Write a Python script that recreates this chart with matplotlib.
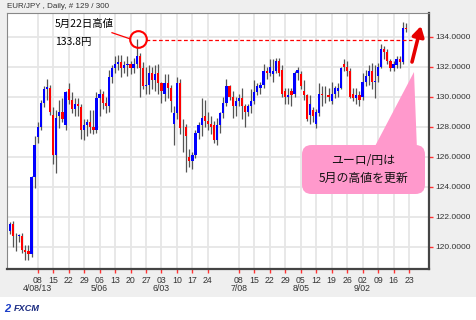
import matplotlib
matplotlib.use("Agg")
import matplotlib.pyplot as plt
import numpy as np
from matplotlib.patches import FancyBboxPatch, Polygon, Rectangle
from matplotlib.lines import Line2D

plt.rcParams['font.family'] = ['Liberation Sans', 'Noto Sans CJK JP', 'DejaVu Sans']

# ---------------- data (EUR/JPY daily OHLC) ----------------
opens = [121.05, 121.50, 120.70, 120.72, 120.75, 119.80, 119.70, 119.50, 124.65, 127.30,
         128.00, 129.60, 130.50, 130.60, 128.80, 126.10, 128.70, 129.00, 128.10, 130.50,
         129.80, 129.20, 129.50, 129.30, 127.80, 128.10, 128.30, 128.00, 127.80, 129.90,
         130.20, 129.60, 129.40, 131.30, 131.90, 132.20, 132.30, 131.90, 132.10, 132.20,
         131.90, 132.20, 132.70, 131.90, 130.70, 130.80, 131.60, 131.10, 131.60, 130.90,
         130.20, 130.90, 130.60, 128.20, 128.90, 130.90, 127.90, 128.00, 126.00, 125.70,
         126.10, 127.60, 128.10, 128.70, 128.40, 128.20, 128.10, 127.10, 128.10, 128.90,
         129.60, 130.70, 130.00, 129.40, 129.70, 129.90, 129.40, 129.00, 129.40, 129.70,
         130.30, 130.60, 130.80, 131.70, 131.60, 131.55, 131.70, 132.40, 131.80, 130.40,
         130.00, 130.40, 130.20, 131.60, 131.50, 130.40, 130.10, 128.80, 129.10, 128.20,
         128.90, 130.20, 130.10, 130.10, 129.70, 130.20, 130.40, 130.60, 132.20, 132.00,
         131.70, 130.20, 129.90, 130.10, 130.00, 131.00, 131.40, 131.70, 131.00, 131.40,
         132.00, 133.20, 133.00, 132.40, 131.90, 132.10, 132.50, 132.30, 134.60]
highs = [121.65, 121.75, 120.90, 120.85, 120.90, 120.10, 120.10, 124.70, 127.40, 128.30,
         129.80, 130.70, 131.20, 130.80, 129.30, 129.10, 129.80, 129.90, 130.40, 130.90,
         130.30, 129.90, 129.90, 129.50, 128.50, 128.50, 129.10, 129.10, 130.30, 130.50,
         130.40, 130.00, 131.80, 132.10, 132.70, 132.80, 132.80, 132.40, 132.70, 132.40,
         132.60, 133.85, 132.90, 132.30, 132.00, 132.10, 132.00, 132.10, 132.20, 131.00,
         131.50, 131.50, 130.80, 129.40, 131.30, 131.20, 128.50, 128.20, 126.50, 126.30,
         127.80, 128.30, 129.90, 129.80, 129.00, 128.70, 128.40, 128.60, 129.00, 130.00,
         131.20, 130.80, 130.40, 130.00, 130.20, 130.60, 129.50, 129.50, 130.50, 131.10,
         130.90, 131.00, 132.20, 132.00, 132.50, 132.50, 132.60, 132.60, 132.10, 130.60,
         130.60, 130.60, 131.70, 132.00, 131.70, 131.10, 130.20, 130.10, 129.30, 129.20,
         130.90, 130.70, 130.70, 130.60, 131.00, 130.70, 130.90, 132.00, 132.50, 132.40,
         131.90, 130.60, 130.60, 130.40, 131.60, 131.80, 132.10, 132.25, 132.10, 132.25,
         133.50, 133.40, 133.20, 132.50, 132.40, 132.70, 132.70, 135.00, 134.90]
lows = [120.85, 120.00, 119.70, 120.30, 119.60, 119.10, 119.15, 119.30, 123.90, 126.90,
        127.80, 129.30, 129.80, 128.80, 125.50, 124.90, 127.90, 128.30, 127.80, 129.50,
        128.90, 128.70, 128.70, 127.20, 127.10, 127.40, 127.60, 127.50, 127.60, 128.70,
        129.20, 128.90, 129.00, 130.90, 131.60, 131.80, 131.30, 131.60, 131.40, 131.50,
        131.60, 131.90, 130.00, 130.50, 130.20, 130.20, 130.50, 130.40, 130.20, 129.60,
        129.70, 129.90, 129.00, 126.80, 128.50, 127.50, 126.30, 125.00, 125.30, 125.20,
        125.90, 127.20, 127.40, 128.00, 127.80, 127.50, 126.90, 126.80, 127.60, 128.60,
        129.40, 129.80, 128.60, 128.70, 129.40, 128.50, 128.00, 128.70, 128.90, 129.50,
        130.10, 130.20, 130.60, 131.20, 131.40, 131.00, 131.60, 131.40, 130.00, 129.50,
        129.50, 129.40, 130.00, 131.10, 130.50, 129.80, 128.40, 128.20, 128.30, 127.90,
        128.70, 129.40, 129.60, 129.70, 129.50, 129.90, 130.00, 130.50, 131.70, 131.40,
        129.90, 129.70, 129.50, 129.40, 129.80, 130.70, 130.80, 130.50, 129.90, 131.00,
        131.90, 132.50, 132.20, 131.70, 131.70, 131.90, 131.90, 132.20, 134.30]
closes = [121.50, 120.70, 120.75, 120.78, 119.80, 119.65, 119.50, 124.65, 126.80, 128.00,
          129.60, 130.50, 130.65, 129.00, 126.10, 128.60, 129.00, 128.50, 130.30, 129.80,
          129.20, 129.50, 129.40, 127.80, 128.10, 128.30, 128.00, 127.80, 129.90, 130.20,
          129.60, 129.40, 131.30, 131.90, 132.20, 132.30, 131.90, 132.10, 132.20, 131.90,
          132.20, 132.70, 131.90, 130.70, 130.80, 131.60, 131.10, 131.50, 130.90, 130.40,
          130.90, 130.60, 129.70, 128.90, 130.90, 127.90, 127.95, 127.40, 125.70, 126.10,
          127.60, 128.10, 128.60, 128.40, 128.20, 128.00, 127.10, 128.10, 128.90, 129.60,
          130.70, 130.00, 129.40, 129.70, 129.90, 129.40, 129.00, 129.40, 129.70, 130.30,
          130.70, 130.80, 131.70, 131.60, 132.00, 131.70, 132.40, 131.60, 130.20, 130.00,
          130.10, 130.10, 131.60, 131.80, 130.70, 130.10, 128.50, 129.50, 128.70, 129.00,
          130.20, 130.10, 130.12, 130.00, 130.20, 130.60, 130.60, 131.90, 132.00, 131.70,
          130.00, 129.90, 130.10, 129.80, 131.00, 131.40, 131.70, 131.00, 131.05, 132.00,
          133.20, 133.00, 132.40, 131.90, 132.20, 132.50, 132.30, 134.60, 134.50]

tick_pos = [9, 14, 19, 24, 29, 34, 39, 44, 49, 54, 59, 64,
            74, 79, 84, 89, 94, 99, 104, 109, 114, 119, 124, 129]
tick_days = ["08", "15", "22", "29", "06", "13", "20", "27", "03", "10", "17", "24",
             "08", "15", "22", "29", "05", "12", "19", "26", "02", "09", "16", "23"]
month_pos = [9, 29, 49, 74, 94, 114]
month_text = ["4/08/13", "5/06", "6/03", "7/08", "8/05", "9/02"]
y_ticks = [120, 122, 124, 126, 128, 130, 132, 134]

peak_idx = 41
peak_val = highs[peak_idx]

# ---------------- figure ----------------
W, H = 476, 320
fig = plt.figure(figsize=(W / 100, H / 100), dpi=100)
fig.patch.set_facecolor('#efefef')

def fx(px):
    return px / W

def fy(py):
    return 1 - py / H

# white strip at the bottom
fig.add_artist(Rectangle((0, 0), 1, 23 / H, transform=fig.transFigure,
                         facecolor='white', edgecolor='none', zorder=0))

ax = fig.add_axes([fx(7), fy(269), fx(429) - fx(7), fy(13) - fy(269)])
ax.set_facecolor('white')

x = np.arange(len(opens))
o = np.array(opens); c = np.array(closes); h = np.array(highs); l = np.array(lows)

ax.vlines(x, l, h, color='#555555', lw=0.9, zorder=3)
body_bottom = np.minimum(o, c)
body_h = np.abs(c - o)
colors = []
for oo, cc in zip(o, c):
    if abs(cc - oo) < 0.04:
        colors.append('#333333')
    elif cc > oo:
        colors.append('#0000ff')
    else:
        colors.append('#ff0000')
body_h = np.where(body_h < 0.06, 0.06, body_h)
ax.bar(x, body_h, bottom=body_bottom, width=0.72, color=colors, linewidth=0, zorder=4)

ax.set_xlim(-0.92, 135.47)
ax.set_ylim(118.53, 135.6)

# grid
for tp in tick_pos:
    ax.axvline(tp, color='#e6e6e6', lw=1.3, zorder=1)
for yv in y_ticks:
    ax.axhline(yv, color='#e6e6e6', lw=1.3, zorder=1)

# ticks
ax.yaxis.tick_right()
ax.set_yticks(y_ticks)
ax.set_yticklabels([f"{v:.4f}" for v in y_ticks])
ax.tick_params(axis='y', colors='#ff3333', length=3, width=1, pad=1.5,
               labelsize=6.0, labelcolor='#333333')
ax.set_xticks(tick_pos)
ax.set_xticklabels(tick_days)
ax.tick_params(axis='x', colors='#ff3333', length=3, width=1, pad=2,
               labelsize=6.3, labelcolor='#333333')
for p, t in zip(month_pos, month_text):
    ax.text(p, -0.078, t, transform=ax.get_xaxis_transform(), ha='center', va='center',
            fontsize=6.3, color='#333333')

for side in ['left', 'top']:
    ax.spines[side].set_color('#888888')
    ax.spines[side].set_linewidth(0.8)
for side in ['right', 'bottom']:
    ax.spines[side].set_color('#444444')
    ax.spines[side].set_linewidth(1.6)

# peak marker: circle and dashed level line
ax.plot([peak_idx + 0.4], [peak_val], marker='o', markersize=12, markerfacecolor='none',
        markeredgecolor='#ff0000', markeredgewidth=1.5, zorder=6, clip_on=False)
ax.plot([peak_idx + 3, 130], [peak_val - 0.03, peak_val - 0.03], color='#ff0000', lw=0.9,
        dashes=(3, 2), zorder=5)

# header
fig.text(fx(7), fy(7), "EUR/JPY , Daily, # 129 / 300", fontsize=5.8, color='#333333',
         va='center', ha='left')

# top-left annotation
fig.text(fx(55), fy(24), "5月22日高値", fontsize=7.5, family=['Noto Sans CJK JP'],
         va='center', ha='left', color='black')
fig.text(fx(55), fy(42), "133.8円", fontsize=7.5, family=['Noto Sans CJK JP'],
         va='center', ha='left', color='black')
fig.add_artist(Line2D([fx(112), fx(130.5)], [fy(32.7), fy(39)], color='#ff0000', lw=0.9,
                      transform=fig.transFigure))

# pink callout
fig.add_artist(Polygon([[fx(373), fy(150)], [fx(414), fy(72)], [fx(417), fy(150)]],
                       closed=True, transform=fig.transFigure, facecolor='#ff99cc',
                       edgecolor='none', zorder=5))
fig.add_artist(FancyBboxPatch((fx(302), fy(194)), fx(425) - fx(302), fy(145) - fy(194),
                              boxstyle='round,pad=0,rounding_size=0.02',
                              transform=fig.transFigure, facecolor='#ff99cc',
                              edgecolor='none', zorder=5, mutation_aspect=W / H))
fig.text(fx(363.5), fy(161), "ユーロ/円は", fontsize=8.6, family=['Noto Sans CJK JP'],
         ha='center', va='center', color='#111111', zorder=6)
fig.text(fx(363.5), fy(178.5), "5月の高値を更新", fontsize=8.6, family=['Noto Sans CJK JP'],
         ha='center', va='center', color='#111111', zorder=6)

# red arrow
ax.annotate('', xy=(421, H - 26), xytext=(412, H - 62), xycoords='figure pixels',
            textcoords='figure pixels',
            arrowprops=dict(arrowstyle='-|>,head_length=0.6,head_width=0.35',
                            color='#e60000', lw=2.6, shrinkA=0, shrinkB=0),
            annotation_clip=False)

# logo
fig.text(fx(4), fy(308.5), "2", fontsize=8, fontweight='bold', style='italic',
         color='#1e40c8', va='center', ha='left')
fig.text(fx(13.5), fy(308.5), "FXCM", fontsize=6.6, fontweight='bold', style='italic',
         color='#1a2a80', va='center', ha='left')

fig.savefig("out.png", dpi=100, facecolor=fig.get_facecolor())
